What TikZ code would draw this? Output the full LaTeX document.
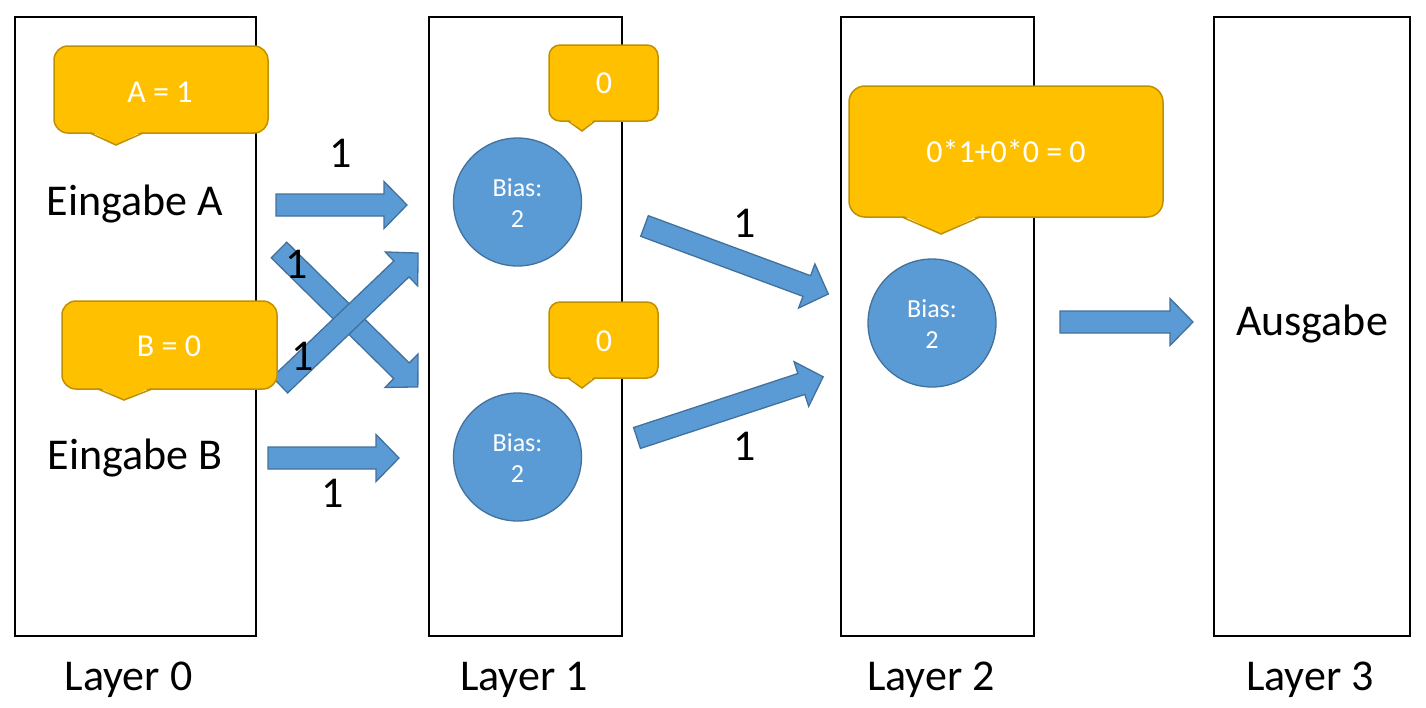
\documentclass[tikz,border=0pt]{standalone}
\usepackage{fontspec}
\setmainfont{Carlito}
\usetikzlibrary{calc}
\definecolor{bluefill}{HTML}{5B9BD5}
\definecolor{blueline}{HTML}{41719C}
\definecolor{goldfill}{HTML}{FFC000}
\definecolor{goldline}{HTML}{BF9000}
\tikzset{
  layerbox/.style={draw=black,line width=2pt,fill=white},
  blockarr/.style={fill=bluefill,draw=blueline,line width=1.3pt,line join=miter},
  callbox/.style={fill=goldfill,draw=goldline,line width=1.5pt},
  callline/.style={draw=goldline,line width=1.5pt,line join=miter},
  neuron/.style={circle,fill=bluefill,draw=blueline,line width=1.3pt,minimum size=128pt,inner sep=0pt},
  big/.style={inner sep=0pt,anchor=base,font=\fontsize{44}{50}\selectfont},
  ctext/.style={inner sep=0pt,anchor=base,text=white,font=\fontsize{32}{36}\selectfont},
  btext/.style={inner sep=0pt,anchor=base,text=white,font=\fontsize{26}{30}\selectfont},
}
% block arrow: start point, angle, length
\newcommand\blockarrow[3]{%
  \draw[blockarr,shift={(#1)},rotate=#2] (0,-11) -- ({#3-23},-11) -- ({#3-23},-23.5) -- (#3,0) -- ({#3-23},23.5) -- ({#3-23},11) -- (0,11) -- cycle;}
% callout: x1,y1,x2,y2,base left,base right,tip x,tip y,radius
\newcommand\callout[9]{%
  \draw[callbox,rounded corners=#9pt] (#1,#2) rectangle (#3,#4);
  \fill[goldfill] (#5,{#4-2}) -- (#7,#8) -- (#6,{#4-2}) -- cycle;
  \draw[callline] (#5,#4) -- (#7,#8) -- (#6,#4);}
\begin{document}
\begin{tikzpicture}[x=1pt,y=-1pt]
\useasboundingbox (0,0) rectangle (1426,707);
% layer boxes
\draw[layerbox] (15,17) rectangle (256,636);
\draw[layerbox] (429,17) rectangle (622,636);
\draw[layerbox] (841,17) rectangle (1034,636);
\draw[layerbox] (1214,17) rectangle (1410,636);
% layer labels
\node[big] (l0) at (128.5,690) {Layer 0};
\node[big] (l1) at (524,690) {Layer 1};
\node[big] (l2) at (931,690) {Layer 2};
\node[big] (l3) at (1310,690) {Layer 3};
% inputs and output
\node[big] (ea) at (135,215) {Eingabe A};
\node[big] (eb) at (135,469) {Eingabe B};
\node[big] (out) at (1312,335) {Ausgabe};
% neurons
\node[neuron] (n1) at (517.5,202) {};
\node[neuron] (n2) at (517.5,457) {};
\node[neuron] (n3) at (932,323) {};
\foreach \n/\x/\y in {b1/517.5/202, b2/517.5/457, b3/932/323}{
  \node[btext] (\n a) at (\x,\y-6) {Bias:};
  \node[btext] (\n b) at (\x,\y+25) {2};
}
% block arrows
\blockarrow{276,205}{0}{131}
\blockarrow{268,458}{0}{131}
\blockarrow{279,250}{-44.6}{195}
\blockarrow{280,385}{43.7}{191}
\blockarrow{644.5,226}{-20.3}{196}
\blockarrow{637,438}{18.2}{196}
\blockarrow{1060,322}{0}{133}
% weight labels
\node[big] (w1) at (341,167) {1};
\node[big] (w2) at (297,278) {1};
\node[big] (w3) at (303,370) {1};
\node[big] (w4) at (333,507) {1};
\node[big] (w5) at (745,237) {1};
\node[big] (w6) at (745,460) {1};
% callouts
\callout{54}{46}{268}{133}{90}{143}{116}{145}{14}
\node[ctext] (ca) at (160,102) {A = 1};
\callout{62}{301}{277}{389}{98}{152}{124}{400}{14}
\node[ctext] (cb) at (169,356) {B = 0};
\callout{549}{45}{658}{121}{568}{595}{582}{131}{11}
\node[ctext] (c1) at (604,93) {0};
\callout{549}{302}{658}{378}{568}{595}{582}{388}{11}
\node[ctext] (c2) at (604,351) {0};
\callout{849}{86}{1163}{217}{902}{980}{941}{234}{16}
\node[ctext] (c3) at (1006,162) {0*1+0*0 = 0};
\end{tikzpicture}
\end{document}
